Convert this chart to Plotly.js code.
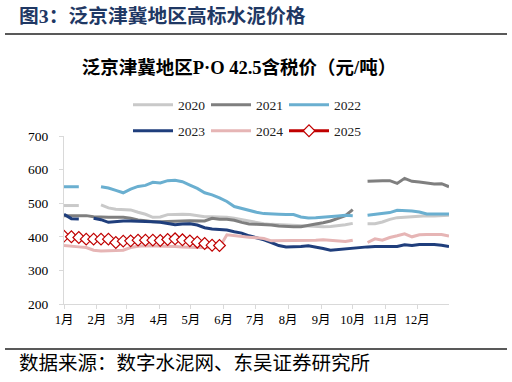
<!DOCTYPE html>
<html>
<head>
<meta charset="utf-8">
<script src="https://cdn.plot.ly/plotly-3.0.1.min.js"></script>
<style>
html,body{margin:0;padding:0;background:#fff;}
#chart{width:512px;height:382px;}
</style>
</head>
<body>
<div id="chart"></div>
<script>
// weekly categories (common calendar year, Jan 1 .. Dec 31)
var weeks = [
  "2001-01-01","2001-01-08","2001-01-15","2001-01-22","2001-01-29",
  "2001-02-05","2001-02-12","2001-02-19","2001-02-26",
  "2001-03-05","2001-03-12","2001-03-19","2001-03-26",
  "2001-04-02","2001-04-09","2001-04-16","2001-04-23","2001-04-30",
  "2001-05-07","2001-05-14","2001-05-21","2001-05-28",
  "2001-06-04","2001-06-11","2001-06-18","2001-06-25",
  "2001-07-02","2001-07-09","2001-07-16","2001-07-23","2001-07-30",
  "2001-08-06","2001-08-13","2001-08-20","2001-08-27",
  "2001-09-03","2001-09-10","2001-09-17","2001-09-24",
  "2001-10-01","2001-10-08","2001-10-15","2001-10-22","2001-10-29",
  "2001-11-05","2001-11-12","2001-11-19","2001-11-26",
  "2001-12-03","2001-12-10","2001-12-17","2001-12-24","2001-12-31"
];
var monthTicks = ["2001-01-01","2001-02-01","2001-03-01","2001-04-01","2001-05-01","2001-06-01",
                  "2001-07-01","2001-08-01","2001-09-01","2001-10-01","2001-11-01","2001-12-01"];
var monthLabels = ["1月","2月","3月","4月","5月","6月","7月","8月","9月","10月","11月","12月"];

var seriesNames = ["2020","2021","2022","2023","2024","2025"];

var y2020 = [493,493,493,null,null,495,486,482,482,480,473,467,458,459,466,467,467,466,463,460,460,460,458,455,451,447,442,439,437,436,435,434,432,431,430,430,431,433,436,440,null,439,439,444,452,457,459,460,463,463,462,463,464];
var y2021 = [463,463,463,463,460,458,458,458,458,455,450,448,445,445,445,445,447,448,447,447,455,452,452,449,443,438,437,437,435,432,430,430,430,433,438,442,447,455,463,481,null,565,567,567,567,559,574,565,563,561,557,558,549];
var y2022 = [549,549,549,null,null,549,545,538,531,542,550,553,562,560,567,568,564,554,544,531,525,516,505,490,484,477,473,469,467,467,466,466,459,456,457,458,460,462,464,463,null,464,467,469,472,479,479,477,474,468,468,468,468];
var y2023 = [467,454,453,null,455,451,443,446,447,447,447,446,445,443,440,436,438,439,435,427,423,421,420,415,411,403,398,391,383,374,370,370,371,373,370,365,360,362,366,367,368,370,371,371,371,371,376,374,377,378,377,375,371];
var y2024 = [374,373,370,368,360,358,358,358,360,368,372,373,373,373,372,371,370,368,368,368,368,368,406,403,401,399,397,395,388,388,388,389,390,388,390,391,390,387,386,390,null,383,394,390,398,403,409,400,406,407,408,407,402];
var y2025 = [402,400,398,393,393,393,393,383,387,388,390,390,390,389,392,394,391,388,384,380,375,374];

var colors = ["#C9C9C9","#7F7F7F","#6AAFD0","#1F3E7C","#E6B5B5","#C00000"];
var allY = [y2020,y2021,y2022,y2023,y2024,y2025];

var serif = "Liberation Serif, Noto Sans CJK SC, serif";
var traces = [];
for (var i = 0; i < allY.length; i++) {
  var t = {
    type: "scatter",
    mode: i === 5 ? "lines+markers" : "lines",
    name: seriesNames[i],
    x: weeks.slice(0, allY[i].length),
    y: allY[i],
    line: {color: colors[i], width: 3},
    connectgaps: false,
    hoverinfo: "skip",
    legend: i < 3 ? "legend" : "legend2"
  };
  if (i === 5) {
    t.marker = {symbol: "diamond", size: 9, color: "#FFFFFF", line: {color: colors[i], width: 1.2}};
  }
  traces.push(t);
}

var PL = 64, PR = 449, PT = 136, PB = 304;
function px2x(p) { return (p - PL) / (PR - PL); }
function px2y(p) { return (PB - p) / (PB - PT); }

var legendCommon = {
  orientation: "h",
  font: {family: serif, size: 13.5, color: "#222"},
  bgcolor: "rgba(0,0,0,0)",
  borderwidth: 0,
  itemwidth: 40,
  entrywidth: 23,
  entrywidthmode: "pixels",
  xanchor: "left",
  yanchor: "middle",
  traceorder: "normal",
  itemclick: false,
  itemdoubleclick: false
};
var legend1 = Object.assign({}, legendCommon, {x: px2x(128), y: px2y(105)});
var legend2 = Object.assign({}, legendCommon, {x: px2x(128), y: px2y(131)});

var layout = {
  width: 512,
  height: 382,
  margin: {l: PL, r: 512 - PR, t: PT, b: 382 - PB},
  paper_bgcolor: "#FFFFFF",
  plot_bgcolor: "#FFFFFF",
  showlegend: true,
  legend: legend1,
  legend2: legend2,
  title: {
    text: "<b>泛京津冀地区P·O 42.5含税价（元/吨）</b>",
    font: {family: serif, size: 18.5, color: "#000"},
    xref: "container", x: 239 / 512, xanchor: "center",
    yref: "container", y: 1 - 68 / 382, yanchor: "middle"
  },
  xaxis: {
    type: "date",
    range: ["2001-01-01", "2001-12-31"],
    tickmode: "array",
    tickvals: monthTicks,
    ticktext: monthLabels,
    showline: true, linecolor: "#D9D9D9", linewidth: 1,
    ticks: "outside", ticklen: 4, tickcolor: "#D9D9D9",
    showgrid: false, zeroline: false,
    tickfont: {family: serif, size: 12.5, color: "#000"},
    fixedrange: true
  },
  yaxis: {
    range: [200, 700],
    tickmode: "linear", tick0: 200, dtick: 100,
    showline: true, linecolor: "#D9D9D9", linewidth: 1,
    ticks: "outside", ticklen: 4, tickcolor: "#D9D9D9",
    showgrid: false, zeroline: false,
    tickfont: {family: serif, size: 13.5, color: "#000"},
    ticklabelstandoff: 8,
    fixedrange: true
  },
  shapes: [
    {type: "line", xref: "paper", yref: "paper", x0: px2x(5), x1: px2x(507), y0: px2y(34), y1: px2y(34),
     line: {color: "#222", width: 1.5}},
    {type: "line", xref: "paper", yref: "paper", x0: px2x(5), x1: px2x(507), y0: px2y(349), y1: px2y(349),
     line: {color: "#222", width: 1.5}}
  ],
  annotations: [
    {text: "<b>图3：泛京津冀地区高标水泥价格</b>", xref: "paper", yref: "paper",
     x: px2x(17), y: px2y(16), xanchor: "left", yanchor: "middle", showarrow: false,
     font: {family: serif, size: 19.75, color: "#1F3864"}},
    {text: "数据来源：数字水泥网、东吴证券研究所", xref: "paper", yref: "paper",
     x: px2x(17), y: px2y(363), xanchor: "left", yanchor: "middle", showarrow: false,
     font: {family: serif, size: 19.5, color: "#000"}}
  ],
  hovermode: false
};

Plotly.newPlot("chart", traces, layout, {displayModeBar: false, staticPlot: true});
</script>
</body>
</html>
